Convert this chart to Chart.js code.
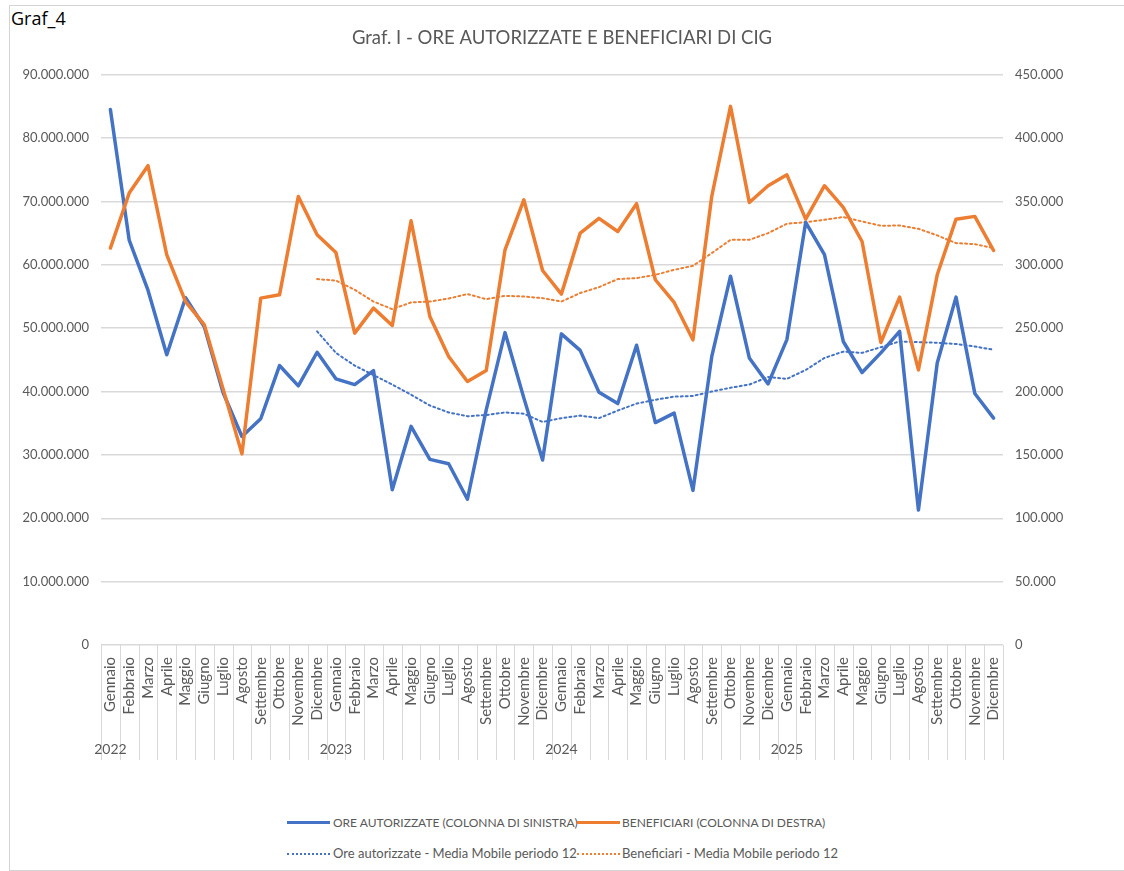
<!DOCTYPE html>
<html>
<head>
<meta charset="utf-8">
<script src="https://cdn.jsdelivr.net/npm/chart.js@4.4.1/dist/chart.umd.min.js"></script>
<style>
  html, body { margin: 0; padding: 0; background: #fff; }
  body { width: 1124px; height: 871px; position: relative; overflow: hidden;
         font-family: Lato, 'Liberation Sans', sans-serif; }
  #frame { position: absolute; left: 9px; top: 5px; width: 1130px; height: 864px;
           border-left: 1px solid #d4d4d4; border-top: 1px solid #d4d4d4; border-bottom: 1px solid #d4d4d4; }
  #sheet { position: absolute; left: 11px; top: 7px; font-size: 18px; color: #000; background: #fff;
           font-family: 'Open Sans', sans-serif; line-height: 22px; padding-right: 2px; }
  #wrap { position: absolute; left: 0; top: 0; width: 1124px; height: 780px; }
  .leg-line { position: absolute; width: 43px; height: 0; }
  .leg-text { position: absolute; font-size: 13px; color: #595959; white-space: nowrap; line-height: 16px; }
  .caps { font-size: 12px; }
</style>
</head>
<body>
<div id="frame"></div>
<div id="sheet">Graf_4</div>
<div id="wrap"><canvas id="cigChart"></canvas></div>

<div class="leg-line" style="left:287px; top:821px; border-top:3px solid #4472C4;"></div>
<div class="leg-text caps" style="left:333px; top:815px;">ORE AUTORIZZATE (COLONNA DI SINISTRA)</div>
<div class="leg-line" style="left:577px; top:821px; border-top:3px solid #ED7D31;"></div>
<div class="leg-text caps" style="left:622px; top:815px;">BENEFICIARI (COLONNA DI DESTRA)</div>
<div class="leg-line" style="left:287px; top:853px; border-top:2px dotted #4472C4;"></div>
<div class="leg-text" style="left:333px; top:845px;">Ore autorizzate - Media Mobile periodo 12</div>
<div class="leg-line" style="left:577px; top:853px; border-top:2px dotted #ED7D31;"></div>
<div class="leg-text" style="left:622px; top:845px;">Beneficiari - Media Mobile periodo 12</div>

<script>
// categories
var mesi = ['Gennaio', 'Febbraio', 'Marzo', 'Aprile', 'Maggio', 'Giugno',
            'Luglio', 'Agosto', 'Settembre', 'Ottobre', 'Novembre', 'Dicembre'];
var anni = ['2022', '2023', '2024', '2025'];

// ore autorizzate (left axis)
var oreAutorizzate = [
  84500000, 63900000, 56000000, 45800000, 54800000, 50200000, 39800000, 32900000, 35700000, 44100000, 40900000, 46200000,
  42000000, 41100000, 43300000, 24500000, 34500000, 29300000, 28600000, 23000000, 37100000, 49300000, 39000000, 29200000,
  49100000, 46500000, 39900000, 38100000, 47300000, 35100000, 36600000, 24400000, 45500000, 58200000, 45300000, 41200000,
  48200000, 66700000, 61600000, 47900000, 43000000, 46100000, 49500000, 21300000, 44500000, 54900000, 39700000, 35800000
];

// beneficiari (right axis)
var beneficiari = [
  313200, 356600, 378200, 307900, 271000, 252600, 201900, 150800, 273700, 276300, 353900, 323700,
  309700, 246100, 265800, 252100, 334700, 259200, 227600, 207900, 216600, 311800, 351300, 295500,
  276900, 325000, 336600, 326300, 348200, 288200, 270300, 240800, 353900, 425000, 349200, 362400,
  371000, 336000, 362400, 345300, 318400, 238700, 274500, 217100, 292100, 336000, 338200, 311300
];

// 12-month moving averages (start at Dicembre 2022)
var oreMedia = [
  null, null, null, null, null, null, null, null, null, null, null, 49500000,
  46100000, 44100000, 42600000, 41100000, 39500000, 37800000, 36700000, 36100000, 36300000, 36700000, 36500000, 35200000,
  35800000, 36200000, 35800000, 37000000, 38100000, 38700000, 39200000, 39300000, 40000000, 40600000, 41100000, 42300000,
  42000000, 43400000, 45300000, 46300000, 46100000, 47000000, 47900000, 47800000, 47700000, 47500000, 47100000, 46600000
];
var beneficiariMedia = [
  null, null, null, null, null, null, null, null, null, null, null, 288700,
  287600, 280300, 271000, 265000, 270300, 271000, 273400, 276900, 272900, 275500, 275000, 273700,
  271000, 277700, 282400, 288700, 289500, 292100, 296000, 299200, 309200, 319700, 319700, 325000,
  332400, 333700, 335500, 337700, 334200, 330800, 331000, 328400, 323200, 317100, 316300, 313200
];

var FONT = "Lato, 'Liberation Sans', sans-serif";
var GREY = '#595959';

var labels = [];
anni.forEach(function (a) {
    mesi.forEach(function (m) { labels.push(m); });
});

function formatIt(v) {
    return String(v).replace(/\B(?=(\d{3})+(?!\d))/g, '.');
}

// separators under the x axis and year labels
var categoryBoxes = {
    id: 'categoryBoxes',
    afterDraw: function (chart) {
        var x = chart.scales.x;
        var ctx = chart.ctx;
        var top = chart.chartArea.bottom;
        var step = x.getPixelForTick(1) - x.getPixelForTick(0);
        ctx.save();
        ctx.strokeStyle = '#d9d9d9';
        ctx.lineWidth = 1;
        for (var i = 0; i <= labels.length; i++) {
            var px = Math.round(x.getPixelForTick(0) - step / 2 + i * step) + 0.5;
            ctx.beginPath();
            ctx.moveTo(px, top);
            ctx.lineTo(px, top + 115);
            ctx.stroke();
        }
        ctx.fillStyle = GREY;
        ctx.font = '14px ' + FONT;
        ctx.textAlign = 'center';
        ctx.textBaseline = 'middle';
        anni.forEach(function (a, k) {
            ctx.fillText(a, x.getPixelForTick(k * 12), top + 104);
        });
        ctx.restore();
    }
};

var ctx = document.getElementById('cigChart').getContext('2d');
var cigChart = new Chart(ctx, {
    type: 'line',
    data: {
        labels: labels,
        datasets: [
            {
                label: 'ORE AUTORIZZATE (COLONNA DI SINISTRA)',
                data: oreAutorizzate,
                yAxisID: 'y',
                borderColor: '#4472C4',
                borderWidth: 3.5,
                order: 1
            },
            {
                label: 'BENEFICIARI (COLONNA DI DESTRA)',
                data: beneficiari,
                yAxisID: 'y1',
                borderColor: '#ED7D31',
                borderWidth: 3.5,
                order: 0
            },
            {
                label: 'Ore autorizzate - Media Mobile periodo 12',
                data: oreMedia,
                yAxisID: 'y',
                borderColor: '#4472C4',
                borderWidth: 2,
                borderDash: [2, 3],
                order: 3
            },
            {
                label: 'Beneficiari - Media Mobile periodo 12',
                data: beneficiariMedia,
                yAxisID: 'y1',
                borderColor: '#ED7D31',
                borderWidth: 2,
                borderDash: [2, 3],
                order: 2
            }
        ]
    },
    options: {
        responsive: true,
        maintainAspectRatio: false,
        animation: false,
        elements: {
            point: { radius: 0 },
            line: { tension: 0, fill: false, borderCapStyle: 'round', borderJoinStyle: 'round' }
        },
        layout: { padding: 0 },
        plugins: {
            legend: { display: false },
            tooltip: { enabled: false },
            title: {
                display: true,
                text: 'Graf. I - ORE AUTORIZZATE E BENEFICIARI DI CIG',
                color: GREY,
                font: { family: FONT, size: 18.5, weight: 'normal' },
                padding: { top: 27, bottom: 25.5 }
            }
        },
        scales: {
            x: {
                offset: true,
                grid: { display: false },
                border: { display: false },
                ticks: {
                    autoSkip: false,
                    maxRotation: 90,
                    minRotation: 90,
                    padding: 4,
                    color: GREY,
                    font: { family: FONT, size: 15 }
                },
                afterFit: function (scale) { scale.height = 135; }
            },
            y: {
                position: 'left',
                min: 0,
                max: 90000000,
                grid: { color: '#d9d9d9', lineWidth: 1.5, drawTicks: false },
                border: { display: false },
                ticks: {
                    stepSize: 10000000,
                    padding: 12,
                    color: GREY,
                    font: { family: FONT, size: 13 },
                    callback: function (v) { return formatIt(v); }
                },
                afterFit: function (scale) { scale.width = 101; }
            },
            y1: {
                position: 'right',
                min: 0,
                max: 450000,
                grid: { display: false, drawTicks: false },
                border: { display: false },
                ticks: {
                    stepSize: 50000,
                    padding: 12,
                    color: GREY,
                    font: { family: FONT, size: 13 },
                    callback: function (v) { return formatIt(v); }
                },
                afterFit: function (scale) { scale.width = 121; }
            }
        }
    },
    plugins: [categoryBoxes]
});
</script>
</body>
</html>
